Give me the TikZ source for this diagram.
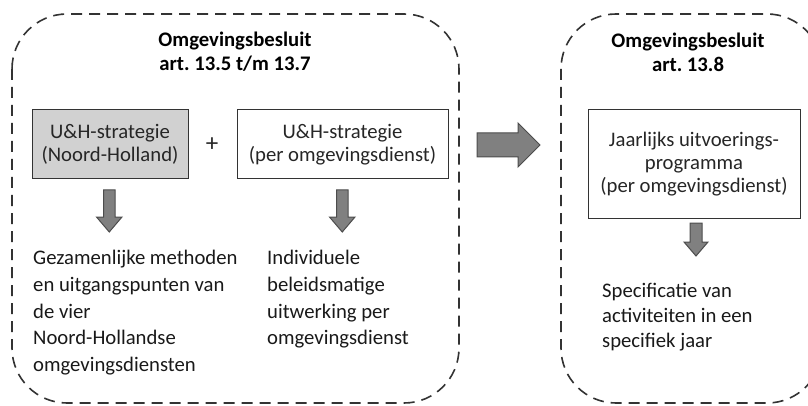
\documentclass[tikz,border=0pt]{standalone}
\usepackage{fontspec}
\setmainfont{Carlito}
\frenchspacing
\begin{document}
\begin{tikzpicture}[x=1pt,y=-1pt,
  region/.style={draw=black!80,line width=1.6pt,dash pattern=on 11pt off 7pt,rounded corners=55pt},
  box/.style={draw=black!80,line width=1pt,inner sep=0pt,align=center,font=\fontsize{20.7}{23}\selectfont,text=black!85},
  title/.style={align=center,font=\bfseries\fontsize{20.7}{24}\selectfont},
  body/.style={align=left,anchor=north west,inner sep=0pt,font=\fontsize{20.7}{26.75}\selectfont,text=black!90},
  blockarrow/.style={fill=black!50,draw=black!70,line width=1pt,line join=miter}
]
\useasboundingbox (0,0) rectangle (808,406);
\clip (0,0) rectangle (808,406);
% regions
\draw[region] (12,14) rectangle (459,403);
\draw[region] (561,14) rectangle (822,403);
% titles
\node[title] (t1) at (235,52) {Omgevingsbesluit\\art. 13.5 t/m 13.7};
\node[title] (t2) at (688,52) {Omgevingsbesluit\\art. 13.8};
% boxes
\node[box,fill=black!18,minimum width=156pt,minimum height=69pt] (b1) at (110,144.5) {U\&H-strategie\\(Noord-Holland)};
\node[font=\fontsize{25}{25}\selectfont,text=black!85] (plus) at (212,145) {+};
\node[box,minimum width=211pt,minimum height=69pt] (b2) at (342.5,144.5) {U\&H-strategie\\(per omgevingsdienst)};
\node[box,minimum width=212pt,minimum height=108pt] (b3) at (694,164) {Jaarlijks uitvoerings-\\programma\\(per omgevingsdienst)};
% down arrows
\draw[blockarrow] (103.5,190) -- (115,190) -- (115,217) -- (122,217) -- (109.25,232) -- (96.5,217) -- (103.5,217) -- cycle;
\draw[blockarrow] (336.5,190) -- (348,190) -- (348,217) -- (355,217) -- (342.25,232) -- (329.5,217) -- (336.5,217) -- cycle;
\draw[blockarrow] (690,223) -- (702,223) -- (702,242) -- (708,242) -- (696,256) -- (684,242) -- (690,242) -- cycle;
% right arrow
\draw[blockarrow] (477,133) -- (518,133) -- (518,123) -- (540,145) -- (518,167) -- (518,157) -- (477,157) -- cycle;
% texts
\node[body] (x1) at (33,250) {Gezamenlijke methoden\\en uitgangspunten van\\de vier\\Noord-Hollandse\\omgevingsdiensten};
\node[body] (x2) at (267,250) {Individuele\\beleidsmatige\\uitwerking per\\omgevingsdienst};
\node[body,font=\fontsize{20.7}{25}\selectfont] (x3) at (602,283) {Specificatie van\\activiteiten in een\\specifiek jaar};
\end{tikzpicture}
\end{document}
